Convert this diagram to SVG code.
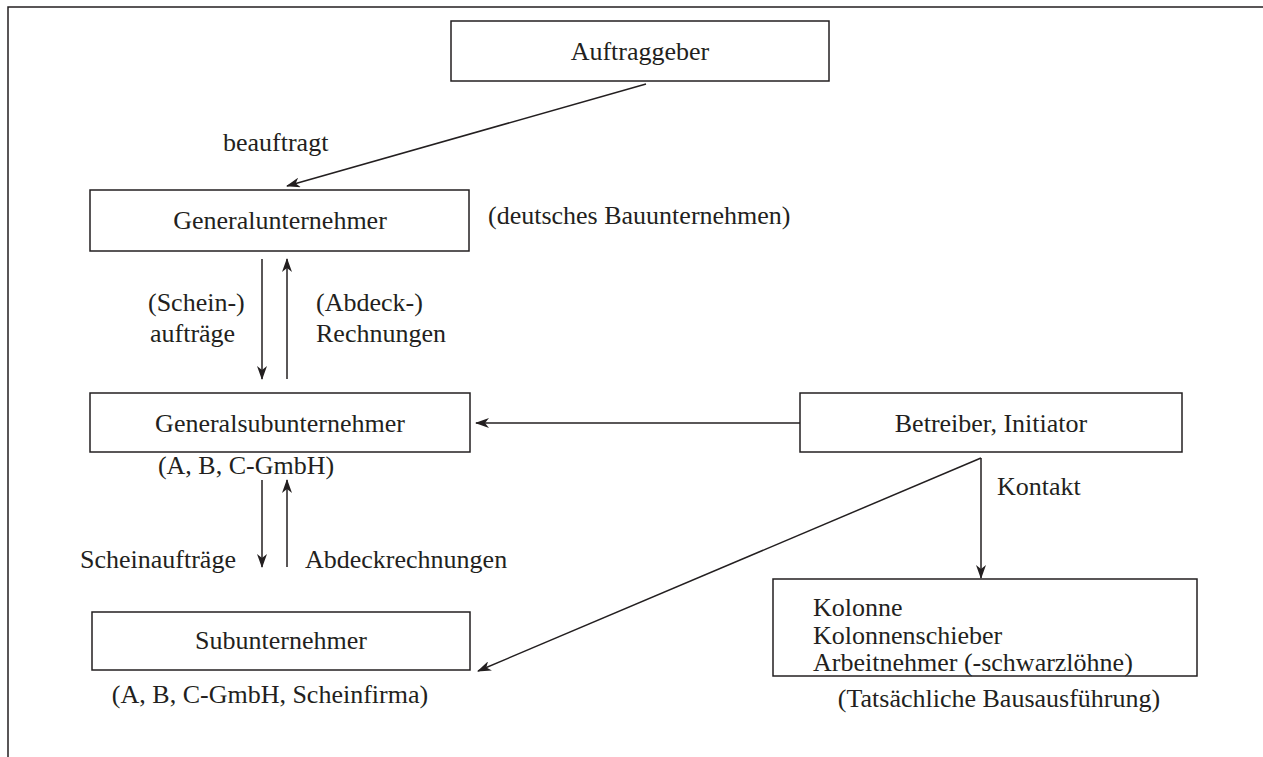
<svg xmlns="http://www.w3.org/2000/svg" width="1263" height="757" viewBox="0 0 1263 757">
<defs>
<style>
.box{fill:#fff;stroke:#231f20;stroke-width:1.5}
.ln{fill:none;stroke:#231f20;stroke-width:1.5}
text{font-family:"Liberation Serif","Times New Roman",serif;font-size:26px;fill:#231f20}
.c{text-anchor:middle}
</style>
<marker id="ah" viewBox="0 0 14 10" refX="13" refY="5" markerWidth="14" markerHeight="10" markerUnits="userSpaceOnUse" orient="auto">
<path d="M0,0 L14,5 L0,10 L4,5 z" fill="#231f20"/>
</marker>
</defs>
<rect width="1263" height="757" fill="#fff"/>
<g id="frame"><path class="ln" d="M8,757 V7 H1263" stroke-width="2"/></g>
<g id="connectors">
<line class="ln" x1="646" y1="84" x2="287" y2="186" marker-end="url(#ah)"/>
<line class="ln" x1="262" y1="259" x2="262" y2="379" marker-end="url(#ah)"/>
<line class="ln" x1="287" y1="379" x2="287" y2="259" marker-end="url(#ah)"/>
<line class="ln" x1="262" y1="480" x2="262" y2="567" marker-end="url(#ah)"/>
<line class="ln" x1="287" y1="567" x2="287" y2="480" marker-end="url(#ah)"/>
<line class="ln" x1="800" y1="423" x2="476" y2="423" marker-end="url(#ah)"/>
<line class="ln" x1="981" y1="458" x2="981" y2="578" marker-end="url(#ah)"/>
<line class="ln" x1="981" y1="458" x2="478" y2="671" marker-end="url(#ah)"/>
<text x="223" y="151">beauftragt</text>
<text x="148" y="311">(Schein-)</text>
<text x="150" y="342">aufträge</text>
<text x="316" y="311">(Abdeck-)</text>
<text x="316" y="342">Rechnungen</text>
<text x="80" y="568">Scheinaufträge</text>
<text x="305" y="568">Abdeckrechnungen</text>
<text x="997" y="495">Kontakt</text>
</g>
<g id="auftraggeber"><rect class="box" x="451" y="21" width="378" height="60"/><text class="c" x="640" y="60">Auftraggeber</text></g>
<g id="generalunternehmer"><rect class="box" x="90" y="190" width="379" height="61"/><text class="c" x="280" y="229">Generalunternehmer</text><text x="488" y="224">(deutsches Bauunternehmen)</text></g>
<g id="generalsubunternehmer"><rect class="box" x="90" y="393" width="380" height="59"/><text class="c" x="280" y="432">Generalsubunternehmer</text><text class="c" x="246" y="474">(A, B, C-GmbH)</text></g>
<g id="subunternehmer"><rect class="box" x="92" y="612" width="378" height="58"/><text class="c" x="281" y="649">Subunternehmer</text><text class="c" x="270" y="703">(A, B, C-GmbH, Scheinfirma)</text></g>
<g id="betreiber"><rect class="box" x="800" y="393" width="382" height="59"/><text class="c" x="991" y="432">Betreiber, Initiator</text></g>
<g id="kolonne"><rect class="box" x="773" y="579" width="424" height="97"/><text x="813" y="616">Kolonne</text><text x="813" y="644">Kolonnenschieber</text><text x="813" y="671">Arbeitnehmer (-schwarzlöhne)</text><text class="c" x="999" y="707">(Tatsächliche Bausausführung)</text></g>
</svg>
